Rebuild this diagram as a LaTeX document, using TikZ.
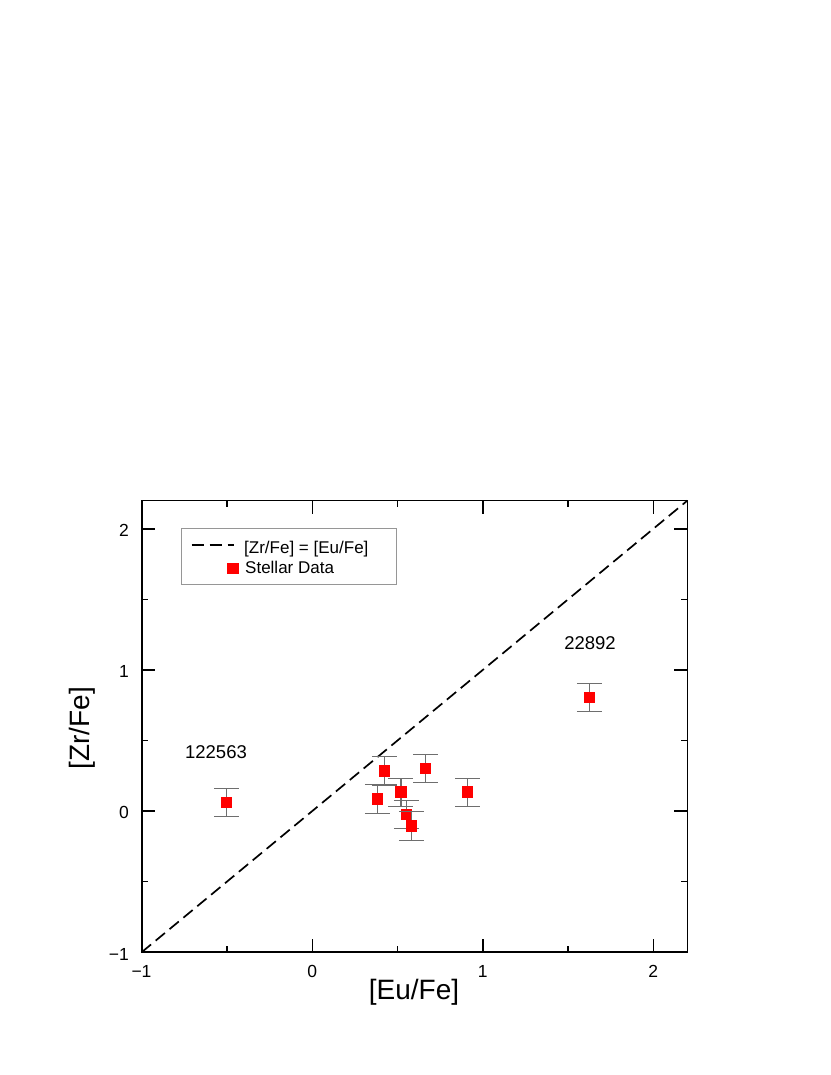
\documentclass[tikz,border=0pt]{standalone}
\usepackage{fontspec}
\setmainfont{Liberation Sans}
\definecolor{errgray}{RGB}{110,110,110}
\definecolor{boxgray}{RGB}{150,150,150}
\definecolor{ptred}{RGB}{255,0,0}
\begin{document}
\begin{tikzpicture}[x=1pt,y=-1pt,
  frameline/.style={line width=1.7pt},
  tickline/.style={line width=1.4pt},
  diagline/.style={line width=1.7pt, dash pattern=on 12pt off 6pt},
  errbar/.style={draw=errgray, line width=1.1pt},
  datapt/.style={rectangle, fill=ptred, draw=none, minimum size=11.5pt, inner sep=0pt},
  ticklab/.style={font=\fontsize{17.5}{20}\selectfont, inner sep=0pt},
  axlab/.style={font=\fontsize{28}{32}\selectfont, inner sep=0pt},
  starlab/.style={font=\fontsize{18.5}{22}\selectfont, inner sep=0pt},
  leglab/.style={font=\fontsize{17}{20}\selectfont, inner sep=0pt},
  legbox/.style={draw=boxgray, line width=0.9pt}]
\useasboundingbox (0,0) rectangle (830,1075);
% legend box
\draw[legbox] (181,528.3) rectangle (396.7,584.3);
\coordinate (l1a) at (191.7,545);
\coordinate (l1b) at (234,545);
\draw[diagline] (l1a) -- (l1b);
\node[leglab, anchor=base west] (leg1) at (244,553.3) {[Zr/Fe] = [Eu/Fe]};
\node[datapt] (legpt) at (233,568.3) {};
\node[leglab, anchor=base west] (leg2) at (245,573.3) {Stellar Data};
% tick labels
\foreach \xp/\lab [count=\i] in {141.5/−1, 312.3/0, 482.8/1, 653.3/2}
  \node[ticklab, anchor=base] (xt\i) at (\xp,977.3) {\lab};
\foreach \yp/\lab [count=\i] in {952.7/−1, 811/0, 669.9/1, 528.8/2}
  \node[ticklab, anchor=base east] (yt\i) at (129,\yp+7.3) {\lab};
% axis labels
\node[axlab] (xlab) at (414,992.5) {[Eu/Fe]};
\node[axlab, rotate=90] (ylab) at (82.5,728) {[Zr/Fe]};
% star labels
\node[starlab] (s1) at (216,751.7) {122563};
\node[starlab] (s2) at (590,643.3) {22892};
% data area
\begin{scope}[shift={(312.3pt,-811pt)}, x=170.5pt, y=141.1pt]
  \coordinate (dl) at (-1,-1);
  \coordinate (dr) at (2.2,2.2);
  \draw[diagline] (dl) -- (dr);
  \foreach \t in {-1,0,1,2} {
    \draw[tickline] (\t,-1) -- ++(0pt,13pt);
    \draw[tickline] (\t,2.2) -- ++(0pt,-13pt);
    \draw[tickline] (-1,\t) -- ++(13pt,0pt);
    \draw[tickline] (2.2,\t) -- ++(-13pt,0pt);
  }
  \foreach \t in {-0.5,0.5,1.5} {
    \draw[tickline] (\t,-1) -- ++(0pt,6pt);
    \draw[tickline] (\t,2.2) -- ++(0pt,-6pt);
    \draw[tickline] (-1,\t) -- ++(6pt,0pt);
    \draw[tickline] (2.2,\t) -- ++(-6pt,0pt);
  }
  \foreach \px/\py [count=\i] in {0.422/0.284, 0.665/0.303, 0.520/0.133, 0.381/0.085,
      0.911/0.133, 0.551/-0.026, 0.581/-0.106, -0.502/0.060, 1.625/0.806} {
    \draw[errbar] (\px,\py-0.1) -- (\px,\py+0.1);
    \draw[errbar] ([xshift=-12.5pt]\px,\py+0.1) -- ([xshift=12.5pt]\px,\py+0.1);
    \draw[errbar] ([xshift=-12.5pt]\px,\py-0.1) -- ([xshift=12.5pt]\px,\py-0.1);
    \node[datapt] (p\i) at (\px,\py) {};
  }
  \draw[frameline] (-1,-1) rectangle (2.2,2.2);
\end{scope}
\end{tikzpicture}
\end{document}
